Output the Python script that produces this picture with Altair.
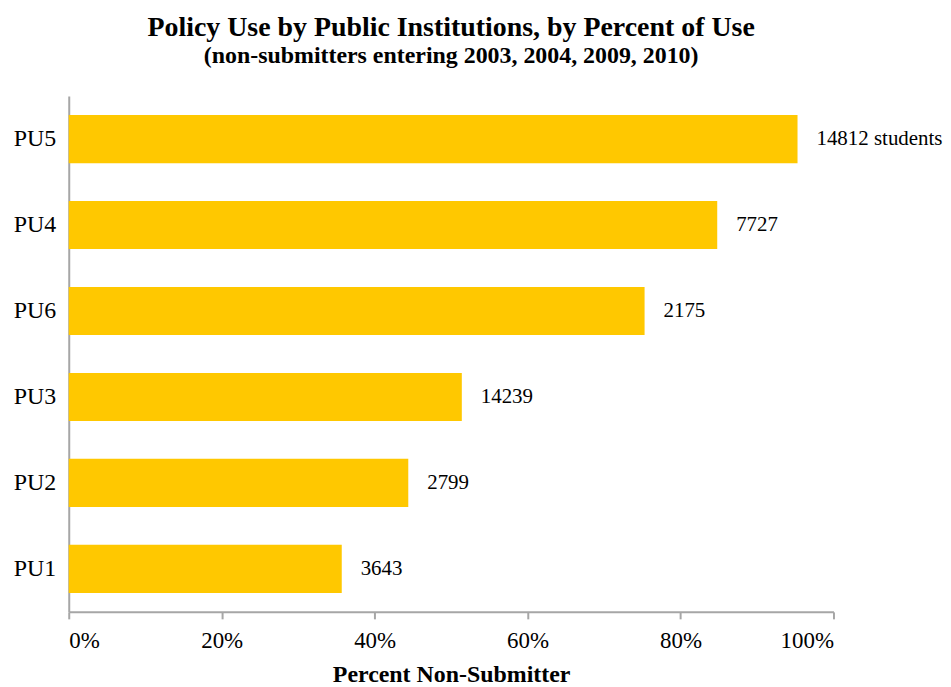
import altair as alt
import pandas as pd

categories = ["PU5", "PU4", "PU6", "PU3", "PU2", "PU1"]
percent = [0.953, 0.848, 0.753, 0.514, 0.444, 0.357]
labels = ["14812 students", "7727", "2175", "14239", "2799", "3643"]

df = pd.DataFrame({"cat": categories, "pct": percent, "label": labels})

FONT = "Liberation Serif"
GOLD = "#FFC800"
GRAY = "#A6A6A6"

base = alt.Chart(df).encode(
    y=alt.Y("cat:N", sort=categories, title=None,
            scale=alt.Scale(paddingInner=0.44, paddingOuter=0.22),
            axis=alt.Axis(ticks=False, domainColor=GRAY, domainWidth=2,
                          labelFont=FONT, labelFontSize=24, labelColor="black",
                          labelPadding=13)),
)

bars = base.mark_bar(color=GOLD).encode(
    x=alt.X("pct:Q", scale=alt.Scale(domain=[0, 1], nice=False),
            title="Percent Non-Submitter",
            axis=alt.Axis(format=".0%", values=[0, 0.2, 0.4, 0.6, 0.8, 1.0],
                          grid=False, domainColor=GRAY, domainWidth=2,
                          tickColor=GRAY, tickWidth=2, tickSize=7,
                          labelFont=FONT, labelFontSize=23, labelColor="black",
                          labelPadding=11,
                          titleFont=FONT, titleFontSize=24, titleFontWeight="bold",
                          titleColor="black", titlePadding=10))
)

text = base.mark_text(align="left", baseline="middle", dx=19, font=FONT,
                      fontSize=21, color="black").encode(
    x="pct:Q", text="label:N"
)

chart = (bars + text).properties(
    width=768,
    height=518,
    autosize=alt.AutoSizeParams(type="none"),
    padding={"left": 61, "top": 87, "right": 110, "bottom": 74},
    title=alt.TitleParams(
        text="Policy Use by Public Institutions, by Percent of Use",
        subtitle="(non-submitters entering 2003, 2004, 2009, 2010)",
        anchor="middle", font=FONT, fontSize=28, fontWeight="bold",
        color="black", subtitleFont=FONT, subtitleFontSize=24,
        subtitleFontWeight="bold", subtitleColor="black",
        subtitlePadding=2, offset=28,
    ),
).configure_view(stroke=None)

chart.save("out.html", embed_options={"renderer": "svg", "actions": False})
